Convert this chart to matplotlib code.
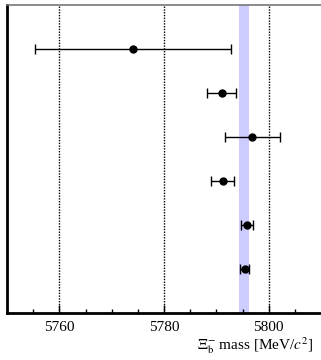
import numpy as np
import matplotlib.pyplot as plt

plt.rcParams['font.family'] = ['Liberation Serif', 'DejaVu Serif']
plt.rcParams['mathtext.fontset'] = 'stix'

# measurements, top to bottom
mass = np.array([5774.1, 5791.0, 5796.9, 5791.2, 5795.9, 5795.4])
err = np.array([18.7, 2.8, 5.3, 2.2, 1.1, 0.9])
ypos = np.array([6, 5, 4, 3, 2, 1])

# average band
band_lo = 5794.4
band_hi = 5796.3

fig = plt.figure(figsize=(3.21, 3.6), dpi=100)
ax = fig.add_axes([7/321, 47/360, 314/321, 308/360])

ax.axvspan(band_lo, band_hi, color='#ccccff', lw=0, zorder=1)
for xv in [5760, 5780, 5800]:
    ax.axvline(xv, color='black', ls=(0, (1, 1)), lw=1.0, zorder=0)

ax.errorbar(mass, ypos, xerr=err, fmt='o', color='black', ms=5,
            elinewidth=1.0, capsize=3.3, capthick=1.0, zorder=3)

ax.set_xlim(5750, 5810)
ax.set_ylim(0, 7)
ax.set_yticks([])
ax.set_xticks([5760, 5780, 5800])
ax.set_xticks(np.arange(5755, 5810, 5), minor=True)
ax.tick_params(axis='x', direction='in', length=6, width=1, labelsize=11, pad=6)
ax.tick_params(axis='x', which='minor', direction='in', length=3, width=1)

ax.spines['right'].set_visible(False)
ax.spines['top'].set_color('#777777')
ax.spines['top'].set_linewidth(1.2)
ax.spines['left'].set_linewidth(2)
ax.spines['bottom'].set_linewidth(2)

fig.text(314/321, 1 - 346/360, r'$\Xi_{\mathrm{b}}^{-}$ mass [MeV/$c^2$]',
         ha='right', va='center', fontsize=11)

fig.savefig('out.png', dpi=100)
